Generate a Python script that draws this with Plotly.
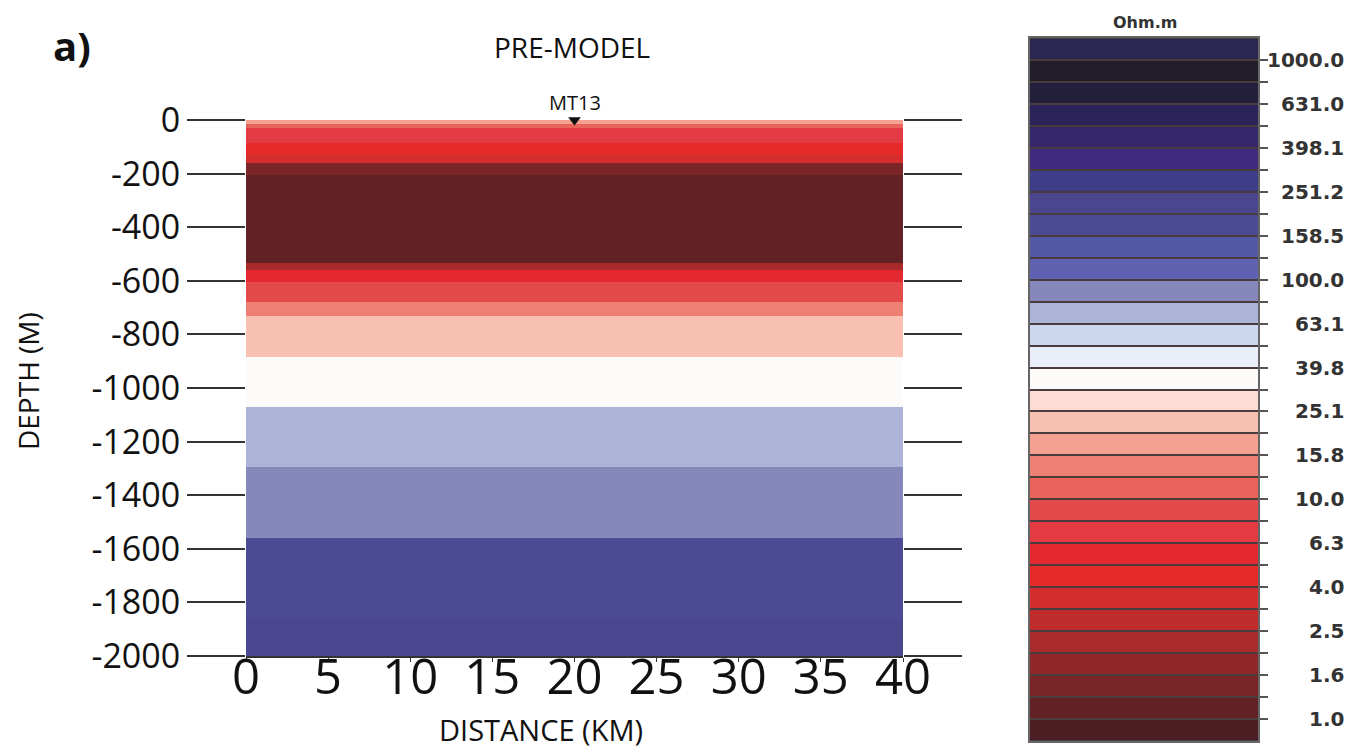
import numpy as np
import plotly.graph_objects as go

W, H = 1365, 749

# ---------------- data ----------------
layer_top_m = [0, 15, 30, 87, 130, 160, 205, 535, 558, 605, 678, 732, 885, 1070, 1295, 1560, 1866]
model_bottom_m = 2000
layer_rho = [17.8, 11.2, 7.1, 4.5, 3.5, 1.4, 1.1, 2.2, 5.6, 8.9, 14.0, 22.0, 35.0, 70.0, 89.0, 180.0, 200.0]
profile_km = [0, 40]

stations = ["MT13"]
station_km = [20]
station_elev = [0]

# colour bins (low -> high resistivity), 0.1 decade each from 10^-0.1 to 10^3.1
bin_colors = [
    "#4a1e22", "#622125", "#7a2528", "#912729", "#a82a2b", "#bf2c2c", "#d42d2d", "#e62a2a",
    "#e4282f", "#e43a44", "#e44a4a", "#e8645a", "#ee8073", "#f5a191", "#f8c0b1", "#fddcd3",
    "#fdfbf9", "#e9eef8", "#ccd6ec", "#aeb4d8", "#8688bc", "#5e62b0", "#5257a6", "#4b4a92",
    "#4a478e", "#3e3e88", "#3f2a80", "#35276a", "#2c235a", "#251f3e", "#231d2a", "#2c2652",
]
cbar_log_min, cbar_log_max = -0.1, 3.1
cbar_tick_logs = [0.0, 0.2, 0.4, 0.6, 0.8, 1.0, 1.2, 1.4, 1.6, 1.8, 2.0, 2.2, 2.4, 2.6, 2.8, 3.0]
cbar_tick_labels = ["1.0", "1.6", "2.5", "4.0", "6.3", "10.0", "15.8", "25.1", "39.8", "63.1",
                    "100.0", "158.5", "251.2", "398.1", "631.0", "1000.0"]

depth_ticks = [0, -200, -400, -600, -800, -1000, -1200, -1400, -1600, -1800, -2000]
depth_tick_labels = ["0", "-200", "-400", "-600", "-800", "-1000", "-1200", "-1400", "-1600", "-1800", "-2000"]
dist_ticks = [0, 5, 10, 15, 20, 25, 30, 35, 40]

# ---------------- helpers ----------------
def px(x):
    return x / W

def py(y):
    return 1 - y / H

nb = len(bin_colors)
colorscale = []
for k, c in enumerate(bin_colors):
    colorscale.append([k / nb, c])
    colorscale.append([(k + 1) / nb, c])

# model grid (ascending y)
edges_depth = layer_top_m + [model_bottom_m]
y_edges = [-d for d in edges_depth][::-1]
z_model = [[np.log10(r)] for r in layer_rho][::-1]

bin_edges = np.linspace(cbar_log_min, cbar_log_max, nb + 1)
bin_centers = (bin_edges[:-1] + bin_edges[1:]) / 2

fig = go.Figure()

fig.add_trace(go.Heatmap(
    x=profile_km, y=y_edges, z=z_model,
    colorscale=colorscale, zmin=cbar_log_min, zmax=cbar_log_max,
    showscale=False, xaxis="x", yaxis="y", hoverinfo="skip",
))

fig.add_trace(go.Scatter(
    x=station_km, y=station_elev, mode="markers",
    marker=dict(symbol="triangle-down", size=11, color="#111111"),
    cliponaxis=False, showlegend=False, xaxis="x", yaxis="y", hoverinfo="skip",
))

fig.add_trace(go.Heatmap(
    x=[0, 1], y=bin_edges, z=[[v] for v in bin_centers],
    colorscale=colorscale, zmin=cbar_log_min, zmax=cbar_log_max,
    showscale=False, xaxis="x2", yaxis="y2", ygap=2, hoverinfo="skip",
))

font_main = "Open Sans, Lato, sans-serif"
font_cb = "DejaVu Sans, Arial, sans-serif"

def label(text, x, y, size, family=font_main, color="#111", angle=0):
    return dict(text=text, x=px(x), y=py(y), xref="paper", yref="paper",
                xanchor="center", yanchor="middle", textangle=angle, showarrow=False,
                font=dict(family=family, size=size, color=color))

annotations = [
    label("<b>a)</b>", 72, 45, 40),
    label("PRE-MODEL", 572, 47, 28),
    label("DISTANCE (KM)", 541, 729, 29),
    label("DEPTH (M)", 28, 381, 28, angle=-90),
    label("<b>Ohm.m</b>", 1145, 22, 16, family=font_cb, color="#333"),
]
for s, xk, ye in zip(stations, station_km, station_elev):
    annotations.append(dict(text=s, x=xk, y=ye, xref="x", yref="y", xanchor="center",
                            yanchor="bottom", yshift=2, showarrow=False,
                            font=dict(family=font_main, size=20, color="#111")))
for v, t in zip(cbar_tick_logs, cbar_tick_labels):
    annotations.append(dict(text="<b>" + t + "</b>", x=px(1346), y=v, xref="paper", yref="y2",
                            xanchor="right", yanchor="middle", showarrow=False,
                            font=dict(family=font_cb, size=20, color="#333")))

fig.update_layout(
    width=W, height=H, margin=dict(l=0, r=0, t=0, b=0, pad=0),
    paper_bgcolor="white", plot_bgcolor="white", showlegend=False,
    xaxis=dict(domain=[px(246), px(903)], range=profile_km, anchor="y", automargin=False,
               tickvals=dist_ticks, ticks="outside", ticklen=4, tickcolor="#333",
               ticklabelstandoff=-27,
               showline=True, linecolor="#333", linewidth=1.5, showgrid=False, zeroline=False,
               tickfont=dict(family=font_main, size=49, color="#111")),
    yaxis=dict(domain=[py(656), py(120)], range=[-2000, 0], anchor="x", automargin=False,
               tickvals=depth_ticks, ticktext=depth_tick_labels,
               ticks="outside", ticklen=58, tickwidth=1.5, tickcolor="#333", mirror="ticks",
               showline=False, showgrid=False, zeroline=False,
               tickfont=dict(family=font_main, size=34, color="#111")),
    xaxis2=dict(domain=[px(1030), px(1258)], range=[0, 1], anchor="y2", automargin=False,
                showticklabels=False, ticks="", showgrid=False, zeroline=False,
                showline=True, mirror=True, linecolor="#666", linewidth=1.5),
    yaxis2=dict(domain=[py(741), py(38)], range=[cbar_log_min, cbar_log_max], anchor="x2",
                automargin=False, side="right", tickvals=list(np.round(bin_edges[1:-1], 2)),
                ticks="outside", ticklen=8, tickwidth=1.5, tickcolor="#555",
                showticklabels=False, showgrid=False, zeroline=False,
                showline=True, mirror=True, linecolor="#666", linewidth=1.5),
    shapes=[dict(type="rect", xref="x2 domain", yref="y2 domain", x0=0, x1=1, y0=0, y1=1,
                 fillcolor="#4a3c3c", line=dict(width=0), layer="below")],
    annotations=annotations,
)

fig.write_html("out.html")
